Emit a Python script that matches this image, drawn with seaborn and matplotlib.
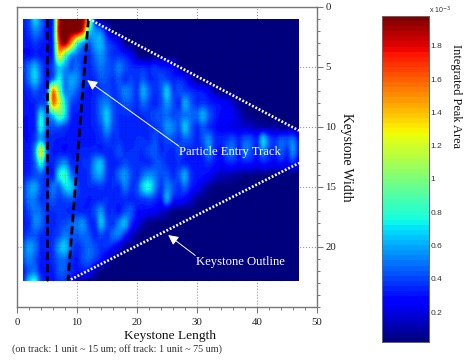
import numpy as np
import matplotlib
matplotlib.use("Agg")
import matplotlib.pyplot as plt
from matplotlib.patches import Rectangle
from matplotlib.transforms import Affine2D
import seaborn as sns

# Integrated peak area, hundredths of 1e-3; one list per keystone-width row
r01 = [34,42,68,50,32,40,180,198,198,198, 192,130,36,8,4,4,4,4,4,4, 4,4,4,4,4,4,4,4,4,4, 4,4,4,4,4,4,4,4,4,4, 4,4,4,4,4,4,4]
r02 = [31,38,52,44,30,42,185,198,198,195, 170,80,56,50,26,6,4,4,4,4, 4,4,4,4,4,4,4,4,4,4, 4,4,4,4,4,4,4,4,4,4, 4,4,4,4,4,4,4]
r03 = [30,32,38,34,30,40,165,190,150,90, 60,46,58,62,42,34,24,8,4,4, 4,4,4,4,4,4,4,4,4,4, 4,4,4,4,4,4,4,4,4,4, 4,4,4,4,4,4,4]
r04 = [30,30,34,32,30,38,130,95,60,48, 40,36,48,56,44,36,36,32,24,8, 4,4,4,4,4,4,4,4,4,4, 4,4,4,4,4,4,4,4,4,4, 4,4,4,4,4,4,4]
r05 = [36,50,62,44,32,42,68,58,44,48, 36,34,42,50,44,42,50,42,36,34, 34,32,36,32,30,26,10,4,4,4, 4,4,4,4,4,4,4,4,4,4, 4,4,4,4,4,4,4]
r06 = [34,50,66,46,32,50,76,52,58,54, 36,34,36,44,42,38,44,36,40,36, 44,36,36,42,40,34,34,30,16,6, 4,4,4,4,4,4,4,4,4,4, 4,4,4,4,4,4,4]
r07 = [32,36,44,38,46,150,100,54,54,44, 34,32,34,38,42,36,42,52,46,38, 60,46,36,44,66,40,42,40,36,32, 30,24,10,5,4,4,4,4,4,4, 4,4,4,4,4,4,4]
r08 = [30,32,34,42,50,150,120,74,42,36, 32,32,36,48,52,42,38,44,42,36, 48,40,34,42,56,44,36,60,44,36, 38,34,30,28,24,16,8,5,4,4, 4,4,4,4,4,4,4]
r09 = [30,30,36,72,48,68,92,72,36,32, 32,32,36,50,66,44,36,36,36,34, 36,38,42,44,48,42,44,50,48,48, 60,44,34,28,26,24,16,8,5,4, 4,4,4,4,4,4,4]
r10 = [28,30,36,76,44,42,44,38,32,30, 30,32,34,42,58,42,36,34,34,34, 34,36,38,42,56,52,44,66,46,36, 44,36,30,26,24,22,20,18,16,12, 12,10,10,8,8,8,5]
r11 = [30,30,40,60,36,34,32,32,30,30, 30,30,32,36,42,36,36,34,34,36, 36,36,42,36,42,42,38,46,42,34, 44,54,36,34,38,42,34,44,42,34, 66,44,36,44,42,48,30]
r12 = [32,32,56,122,48,32,32,30,32,32, 34,34,36,34,34,36,42,36,36,36, 36,42,44,36,36,34,42,36,34,34, 36,52,34,30,44,48,32,50,42,32, 52,38,34,46,36,54,32]
r13 = [30,32,46,80,38,34,48,56,36,34, 36,38,56,64,38,34,36,42,38,36, 36,36,42,42,36,34,36,34,32,30, 32,36,30,26,32,34,28,32,30,26, 32,28,26,30,26,34,20]
r14 = [32,36,42,44,36,34,72,82,52,36, 34,38,54,58,38,36,48,56,42,36, 48,56,50,42,44,36,44,60,36,32, 30,26,18,14,12,10,8,6,6,5, 5,4,4,4,4,4,4]
r15 = [36,54,58,42,36,50,46,68,68,42, 34,36,36,38,34,36,36,50,38,42, 68,78,54,38,52,44,36,46,32,26, 16,8,5,4,4,4,4,4,4,4, 4,4,4,4,4,4,4]
r16 = [36,50,50,38,38,44,38,42,44,36, 34,32,34,36,36,34,34,36,34,36, 38,42,36,32,58,34,30,26,18,8, 5,4,4,4,4,4,4,4,4,4, 4,4,4,4,4,4,4]
r17 = [32,42,50,46,36,36,36,36,34,36, 34,34,42,56,36,36,32,42,44,30, 28,26,24,18,14,6,4,4,4,4, 4,4,4,4,4,4,4,4,4,4, 4,4,4,4,4,4,4]
r18 = [32,36,52,48,34,34,38,42,46,50, 54,38,36,64,42,38,52,62,36,24, 12,6,4,4,4,4,4,4,4,4, 4,4,4,4,4,4,4,4,4,4, 4,4,4,4,4,4,4]
r19 = [34,42,44,36,34,36,42,52,44,44, 48,44,34,42,36,48,50,34,18,8, 4,4,4,4,4,4,4,4,4,4, 4,4,4,4,4,4,4,4,4,4, 4,4,4,4,4,4,4]
r20 = [44,58,50,34,34,38,58,66,44,36, 42,48,42,36,36,30,18,8,4,4, 4,4,4,4,4,4,4,4,4,4, 4,4,4,4,4,4,4,4,4,4, 4,4,4,4,4,4,4]
r21 = [42,52,44,32,32,36,46,48,36,32, 42,46,38,30,16,6,4,4,4,4, 4,4,4,4,4,4,4,4,4,4, 4,4,4,4,4,4,4,4,4,4, 4,4,4,4,4,4,4]
r22 = [32,46,50,32,30,32,44,44,34,30, 30,28,14,5,4,4,4,4,4,4, 4,4,4,4,4,4,4,4,4,4, 4,4,4,4,4,4,4,4,4,4, 4,4,4,4,4,4,4]
r23 = [36,72,84,44,32,30,36,36,30,12, 5,4,4,4,4,4,4,4,4,4, 4,4,4,4,4,4,4,4,4,4, 4,4,4,4,4,4,4,4,4,4, 4,4,4,4,4,4,4]
rows = [r01,r02,r03,r04,r05,r06,r07,r08,r09,r10,r11,r12,r13,r14,r15,r16,r17,r18,r19,r20,r21,r22,r23]

x_ticks = [0, 10, 20, 30, 40, 50]
y_ticks = [0, 5, 10, 15, 20]
cbar_ticks = [0.2, 0.4, 0.6, 0.8, 1, 1.2, 1.4, 1.6, 1.8]
track_left_x, track_left_y = [5, 5], [1, 22.8]
track_right_x, track_right_y = [11.9, 8.5], [1, 22.8]
outline_top_x, outline_top_y = [12, 47], [1, 10.3]
outline_bot_x, outline_bot_y = [9, 47], [22.7, 13]
outline_base_x, outline_base_y = [1, 9], [22.8, 22.8]

SERIF = "Liberation Serif"
W, H = 473, 361
sns.set_theme(style="white")
plt.rcParams["font.family"] = [SERIF, "DejaVu Sans"]

values = np.array(rows, dtype=float) / 100
cmap = matplotlib.colormaps["jet"].resampled(64)

fig = plt.figure(figsize=(W / 100, H / 100), dpi=100, facecolor="white")
def box(l, t, r, b):
    return [l / W, 1 - b / H, (r - l) / W, (b - t) / H]
ax = fig.add_axes(box(17, 7, 317, 307))
cax = fig.add_axes(box(382, 16, 429, 342))

sns.heatmap(values, ax=ax, cbar_ax=cax, cmap=cmap, vmin=0.02, vmax=1.98,
            xticklabels=False, yticklabels=False, cbar_kws={"ticks": cbar_ticks})
mesh = ax.collections[0]
mesh.set_transform(Affine2D().scale(46 / 47, 22 / 23).translate(1, 1) + ax.transData)
im = ax.imshow(values, cmap=cmap, vmin=0.02, vmax=1.98, interpolation="catrom",
               extent=(0.5, 47.5, 23.5, 0.5), aspect="auto", zorder=1.5)
im.set_clip_path(Rectangle((1, 1), 46, 21.8, transform=ax.transData))
mesh.set_clip_path(Rectangle((1, 1), 46, 21.8, transform=ax.transData))

ax.set_xlim(0, 50)
ax.set_ylim(25, 0)
ax.set_facecolor("white")
ax.set_xticks(x_ticks)
ax.set_yticks(y_ticks)
ax.set_xticks(np.arange(0, 51, 2), minor=True)
ax.set_yticks(np.arange(0, 26, 1), minor=True)
ax.set_xticklabels([str(v) for v in x_ticks], fontsize=7.8, color="#222222")
ax.yaxis.tick_right()
ax.yaxis.set_label_position("right")
ax.set_yticklabels([str(v) for v in y_ticks], fontsize=7.8, color="#222222")
ax.tick_params(axis="x", which="major", bottom=True, top=False, direction="out", length=4, width=0.8, color="#777777", pad=4)
ax.tick_params(axis="y", which="major", right=True, left=False, direction="out", length=4, width=0.8, color="#777777", pad=2)
ax.tick_params(axis="both", which="minor", bottom=True, right=True, left=False, top=False,
               direction="out", length=2.5, width=0.7, color="#777777")
ax.grid(True, which="major", color="#9a9a9a", linestyle=":", linewidth=0.8, zorder=1)
ax.set_axisbelow(True)
for s in ax.spines.values():
    s.set_visible(True)
    s.set_color("#777777")
    s.set_linewidth(1.0)
    s.set_zorder(5)

# faint dotted lattice lying over the map
ax.hlines(np.arange(2, 23), 1, 47, color="black", alpha=0.22, linewidth=0.5, linestyle=":", zorder=2)
ax.vlines(np.arange(2, 47, 2), 1, 22.8, color="black", alpha=0.22, linewidth=0.5, linestyle=":", zorder=2)

common = dict(ax=ax, estimator=None, sort=False, legend=False, zorder=4)
for xs, ys in [(track_left_x, track_left_y), (track_right_x, track_right_y)]:
    sns.lineplot(x=xs, y=ys, color="black", linewidth=2.0, linestyle=(0, (3, 1.4)), **common)
for xs, ys in [(outline_top_x, outline_top_y), (outline_bot_x, outline_bot_y)]:
    sns.lineplot(x=xs, y=ys, color="white", linewidth=1.9, linestyle=(0, (0.7, 0.7)), **common)
sns.lineplot(x=outline_base_x, y=outline_base_y, color="#dfe6ff", linewidth=0.8,
             linestyle=(0, (1, 1.5)), **common)
ax.set_xlim(0, 50)
ax.set_ylim(25, 0)

arrow = dict(arrowstyle="-|>,head_length=0.5,head_width=0.25", color="white", lw=0.7, shrinkA=0, shrinkB=0)
ax.annotate("", xy=(11.7, 6.1), xytext=(27, 11.6), arrowprops=arrow, zorder=6)
ax.annotate("", xy=(25.2, 19), xytext=(29.7, 20.7), arrowprops=arrow, zorder=6)
ax.text(27, 12.05, "Particle Entry Track", color="white", fontsize=9.1, va="center", ha="left", zorder=6)
ax.text(29.8, 21.25, "Keystone Outline", color="white", fontsize=9.1, va="center", ha="left", zorder=6)

fig.text(170 / W, 1 - 335.5 / H, "Keystone Length", fontsize=9.6, ha="center", va="center", color="#111111")
fig.text(116.5 / W, 1 - 349 / H, "(on track: 1 unit ~ 15 um; off track: 1 unit ~ 75 um)",
         fontsize=7.3, ha="center", va="center", color="#333333")
fig.text(346 / W, 1 - 157 / H, "Keystone Width", fontsize=9.8, rotation=270, ha="center", va="center", color="#111111")
fig.text(456 / W, 1 - 96 / H, "Integrated Peak Area", fontsize=8.9, rotation=270, ha="center", va="center", color="#111111")

cax.set_yticks(cbar_ticks)
cax.set_yticklabels([f"{v:g}" for v in cbar_ticks], fontsize=6.0, family=["Liberation Sans"], color="#333333")
cax.tick_params(axis="y", which="both", right=True, left=False, direction="in", length=2, width=0.5, color="#555555", pad=1)
cax.minorticks_off()
for s in cax.spines.values():
    s.set_visible(True)
    s.set_color("#666666")
    s.set_linewidth(0.7)
fig.text(429 / W, 1 - 10 / H, r"x 10$^{-3}$", fontsize=5, family=["Liberation Sans"], ha="left", va="center", color="#333333")

fig.savefig("out.png", dpi=100)
